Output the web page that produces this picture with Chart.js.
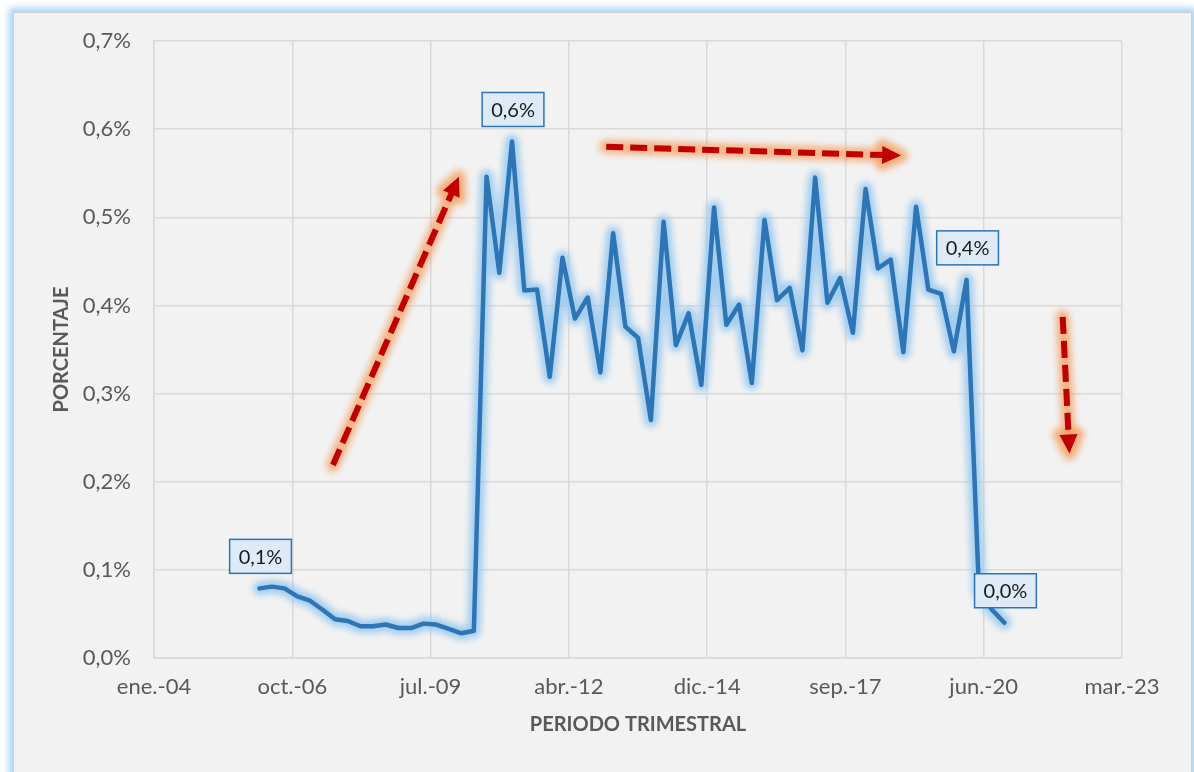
<!DOCTYPE html>
<html lang="es">
<head>
<meta charset="utf-8">
<title>Porcentaje por periodo trimestral</title>
<script src="https://cdn.jsdelivr.net/npm/chart.js@4.4.1/dist/chart.umd.min.js"></script>
<style>
  html, body { margin: 0; padding: 0; background: #ffffff; overflow: hidden; }
  #wrap { position: relative; width: 1194px; height: 772px; }
  #frame {
    position: absolute; left: 13px; top: 12px; width: 1177px; height: 780px;
    background: #F2F2F2; border: 1px solid #D0D0D0;
    box-shadow: 0 0 7px 4px #A9D2F5;
  }
  #chart { position: absolute; left: 0; top: 0; }
</style>
</head>
<body>
<div id="wrap">
  <div id="frame"></div>
  <canvas id="chart" width="1194" height="772"></canvas>
</div>
<script>
// Quarterly periods (mid-quarter dates), 2006 T1 .. 2020 T4
const periods = [
  '2006-02-15','2006-05-15','2006-08-15','2006-11-15',
  '2007-02-15','2007-05-15','2007-08-15','2007-11-15',
  '2008-02-15','2008-05-15','2008-08-15','2008-11-15',
  '2009-02-15','2009-05-15','2009-08-15','2009-11-15',
  '2010-02-15','2010-05-15','2010-08-15','2010-11-15',
  '2011-02-15','2011-05-15','2011-08-15','2011-11-15',
  '2012-02-15','2012-05-15','2012-08-15','2012-11-15',
  '2013-02-15','2013-05-15','2013-08-15','2013-11-15',
  '2014-02-15','2014-05-15','2014-08-15','2014-11-15',
  '2015-02-15','2015-05-15','2015-08-15','2015-11-15',
  '2016-02-15','2016-05-15','2016-08-15','2016-11-15',
  '2017-02-15','2017-05-15','2017-08-15','2017-11-15',
  '2018-02-15','2018-05-15','2018-08-15','2018-11-15',
  '2019-02-15','2019-05-15','2019-08-15','2019-11-15',
  '2020-02-15','2020-05-15','2020-08-15','2020-11-15'
];

// Percentage per quarter (in %)
const porcentaje = [
  0.079, 0.081, 0.079, 0.070,
  0.065, 0.055, 0.044, 0.042,
  0.036, 0.036, 0.038, 0.034,
  0.034, 0.039, 0.038, 0.033,
  0.028, 0.031, 0.546, 0.437,
  0.586, 0.417, 0.418, 0.319,
  0.454, 0.385, 0.409, 0.324,
  0.482, 0.376, 0.363, 0.270,
  0.495, 0.355, 0.391, 0.310,
  0.511, 0.378, 0.401, 0.312,
  0.497, 0.406, 0.420, 0.349,
  0.545, 0.403, 0.431, 0.369,
  0.532, 0.442, 0.452, 0.347,
  0.512, 0.418, 0.413, 0.348,
  0.429, 0.075, 0.055, 0.040
];

// Points that carry a value label
const labeledPoints = [0, 20, 56, 59];

// Date axis: ticks every 1000 days (spreadsheet date serials)
const xTickLabels = ['ene.-04', 'oct.-06', 'jul.-09', 'abr.-12', 'dic.-14', 'sep.-17', 'jun.-20', 'mar.-23'];
const xStart = 38000, xStep = 1000;
const yTicks = [0, 0.1, 0.2, 0.3, 0.4, 0.5, 0.6, 0.7];

// Trend arrows: [start date serial, start %, end date serial, end %]
const trendArrows = [
  [39294, 0.219, 40205, 0.546],
  [41270, 0.580, 43403, 0.570],
  [44571, 0.387, 44620, 0.232]
];

function dateSerial(iso) {
  const [y, m, d] = iso.split('-').map(Number);
  return (Date.UTC(y, m - 1, d) - Date.UTC(1899, 11, 30)) / 86400000;
}
function fmtPct(v) { return v.toFixed(1).replace('.', ',') + '%'; }

const points = periods.map((p, i) => ({ x: dateSerial(p), y: porcentaje[i] }));

const FONT = 'Lato, "Open Sans", sans-serif';

// Soft halo under the series line
const glowPlugin = {
  id: 'glow',
  beforeDatasetDraw(chart, args) {
    const ds = chart.data.datasets[args.index];
    if (ds.glow) { chart.ctx.save(); chart.ctx.filter = 'blur(' + ds.glow + 'px)'; }
  },
  afterDatasetDraw(chart, args) {
    const ds = chart.data.datasets[args.index];
    if (ds.glow) chart.ctx.restore();
  }
};

// Dashed trend arrows with an orange halo
const arrowPlugin = {
  id: 'trendArrows',
  afterDatasetsDraw(chart) {
    const { ctx, scales: { x, y } } = chart;
    trendArrows.forEach(([x0, y0, x1, y1]) => {
      const ax = x.getPixelForValue(x0), ay = y.getPixelForValue(y0);
      const bx = x.getPixelForValue(x1), by = y.getPixelForValue(y1);
      const ang = Math.atan2(by - ay, bx - ax);
      const headLen = 19, headW = 9;
      const sx = bx - Math.cos(ang) * headLen, sy = by - Math.sin(ang) * headLen;
      const head = () => {
        ctx.beginPath();
        ctx.moveTo(bx, by);
        ctx.lineTo(sx + Math.sin(ang) * headW, sy - Math.cos(ang) * headW);
        ctx.lineTo(sx - Math.sin(ang) * headW, sy + Math.cos(ang) * headW);
        ctx.closePath();
      };
      // halo
      ctx.save();
      ctx.filter = 'blur(3px)';
      ctx.strokeStyle = 'rgba(244,160,100,0.75)';
      ctx.fillStyle = 'rgba(244,160,100,0.75)';
      ctx.lineWidth = 14;
      ctx.lineCap = 'round';
      ctx.lineJoin = 'round';
      ctx.beginPath(); ctx.moveTo(ax, ay); ctx.lineTo(sx, sy); ctx.stroke();
      head(); ctx.fill(); ctx.stroke();
      ctx.restore();
      // arrow
      ctx.save();
      ctx.strokeStyle = '#C00000';
      ctx.fillStyle = '#C00000';
      ctx.lineWidth = 6;
      ctx.setLineDash([17, 7]);
      ctx.beginPath(); ctx.moveTo(ax, ay); ctx.lineTo(sx + Math.cos(ang) * 2, sy + Math.sin(ang) * 2); ctx.stroke();
      ctx.setLineDash([]);
      head(); ctx.fill();
      ctx.restore();
    });
  }
};

// Boxed value labels above selected points
const valueLabelPlugin = {
  id: 'valueLabels',
  afterDatasetsDraw(chart) {
    const { ctx } = chart;
    const meta = chart.getDatasetMeta(0);
    ctx.save();
    ctx.font = '20px ' + FONT;
    ctx.textAlign = 'center';
    ctx.textBaseline = 'middle';
    labeledPoints.forEach(i => {
      const el = meta.data[i];
      const txt = fmtPct(porcentaje[i]);
      const w = ctx.measureText(txt).width + 18, h = 34;
      const cx = el.x + 1, cy = el.y - 32;
      ctx.fillStyle = '#DEEBF7';
      ctx.fillRect(cx - w / 2, cy - h / 2, w, h);
      ctx.strokeStyle = '#2E75B6';
      ctx.lineWidth = 1.5;
      ctx.strokeRect(cx - w / 2, cy - h / 2, w, h);
      ctx.fillStyle = '#1A1A1A';
      ctx.fillText(txt, cx, cy + 1);
    });
    ctx.restore();
  }
};

new Chart(document.getElementById('chart'), {
  type: 'line',
  data: {
    datasets: [
      {
        data: points,
        borderColor: '#2E75B6',
        borderWidth: 4.5,
        pointRadius: 0,
        tension: 0,
        borderJoinStyle: 'round',
        borderCapStyle: 'round',
        order: 0
      },
      {
        data: points,
        borderColor: 'rgba(150,200,240,0.85)',
        borderWidth: 14,
        pointRadius: 0,
        tension: 0,
        borderJoinStyle: 'round',
        borderCapStyle: 'round',
        glow: 3,
        order: 1
      }
    ]
  },
  options: {
    responsive: false,
    animation: false,
    layout: { padding: { left: 0, right: 72, top: 41, bottom: 0 } },
    plugins: { legend: { display: false }, tooltip: { enabled: false } },
    scales: {
      x: {
        type: 'linear',
        min: xStart,
        max: xStart + xStep * (xTickLabels.length - 1),
        afterBuildTicks(scale) {
          scale.ticks = xTickLabels.map((_, i) => ({ value: xStart + i * xStep }));
        },
        afterFit(scale) { scale.height = 114; },
        ticks: {
          callback: v => xTickLabels[Math.round((v - xStart) / xStep)],
          color: '#595959',
          font: { family: FONT, size: 22 },
          padding: 16,
          maxRotation: 0,
          autoSkip: false
        },
        grid: { color: '#D9D9D9', lineWidth: 1.5, drawTicks: false },
        border: { color: '#D9D9D9', width: 1.5 },
        title: {
          display: true,
          text: 'PERIODO TRIMESTRAL',
          color: '#595959',
          font: { family: FONT, size: 20, weight: 'bold' },
          padding: { top: 0, bottom: 35 }
        }
      },
      y: {
        min: 0,
        max: 0.7,
        afterBuildTicks(scale) { scale.ticks = yTicks.map(v => ({ value: v })); },
        afterFit(scale) { scale.width = 154; },
        ticks: {
          callback: v => fmtPct(v),
          color: '#595959',
          font: { family: FONT, size: 22 },
          padding: 23
        },
        grid: { color: '#D9D9D9', lineWidth: 1.5, drawTicks: false },
        border: { color: '#D9D9D9', width: 1.5 },
        title: {
          display: true,
          text: 'PORCENTAJE',
          color: '#595959',
          font: { family: FONT, size: 20, weight: 'bold' },
          padding: { top: 50, bottom: 0 }
        }
      }
    }
  },
  plugins: [glowPlugin, arrowPlugin, valueLabelPlugin]
});
</script>
</body>
</html>
